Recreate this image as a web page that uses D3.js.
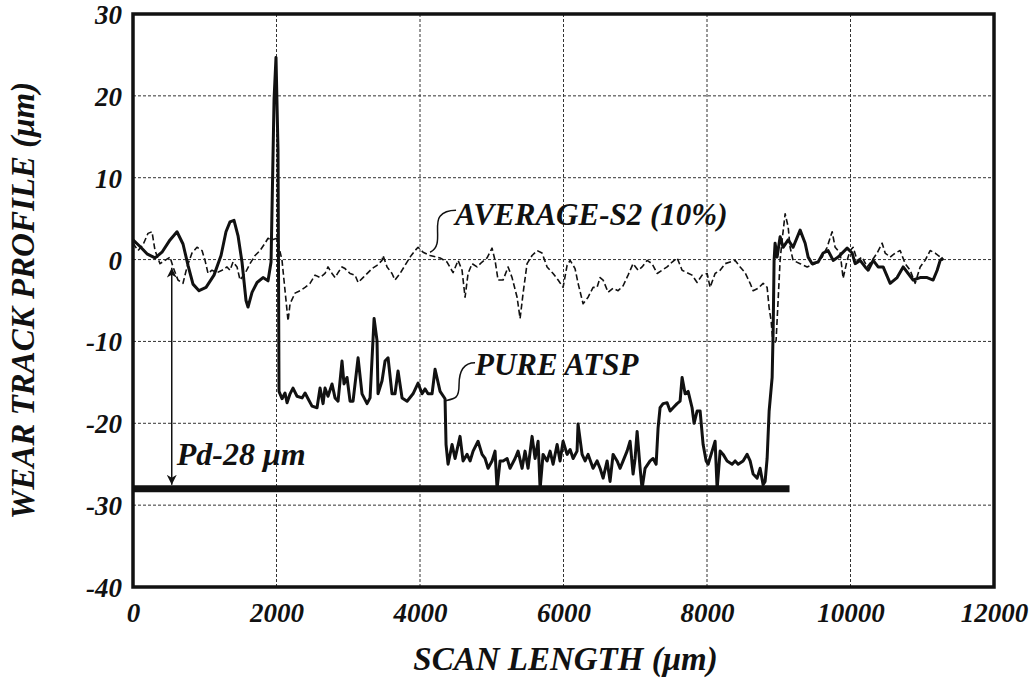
<!DOCTYPE html>
<html>
<head>
<meta charset="utf-8">
<script src="https://cdn.jsdelivr.net/npm/d3@7/dist/d3.min.js"></script>
<style>
  body { margin: 0; background: #fff; }
  svg { display: block; }
  text { font-family: "Liberation Serif", "Times New Roman", serif; font-weight: bold; font-style: italic; fill: #111; }
</style>
</head>
<body>
<svg id="chart" width="1029" height="678"></svg>
<script>
// Axis ticks
const xTicks = [0, 2000, 4000, 6000, 8000, 10000, 12000];
const yTicks = [-40, -30, -20, -10, 0, 10, 20, 30];

// Pure ATSP wear track profile: [scan length (um), depth (um)]
const pureAtsp = [
  [0,2.4],[98,1.6],[195,0.7],[307,0.2],[404,0.9],[516,2.4],[613,3.4],[697,1.9],[767,-0.7],[836,-3.0],
  [920,-3.8],[1018,-3.4],[1129,-1.9],[1227,0.5],[1296,3.4],[1352,4.6],[1408,4.8],[1464,2.9],[1519,-0.3],
  [1575,-5.0],[1603,-5.8],[1659,-4.0],[1729,-2.8],[1812,-2.2],[1882,-2.6],[1924,-0.3],[1966,19.6],
  [1993,24.7],[2021,13.4],[2035,-16.1],
  [2049,-16.4],[2077,-17.0],[2119,-16.3],[2147,-17.5],[2189,-16.4],[2230,-15.7],[2286,-16.7],[2356,-16.9],
  [2398,-16.3],[2440,-17.0],[2495,-17.9],[2565,-18.1],[2607,-15.7],[2649,-17.6],[2676,-15.7],[2718,-16.7],
  [2774,-15.2],[2816,-16.9],[2858,-17.3],[2913,-12.4],[2941,-15.2],[2983,-14.4],[3025,-17.3],[3067,-17.3],
  [3137,-12.0],[3192,-16.4],[3262,-17.6],[3304,-16.9],[3360,-7.2],[3401,-9.9],[3415,-16.4],[3471,-14.8],
  [3513,-12.4],[3555,-12.0],[3610,-16.4],[3652,-16.4],[3694,-13.6],[3750,-16.9],[3820,-17.3],[3903,-16.4],
  [3973,-15.1],[4029,-16.4],[4071,-15.8],[4112,-16.4],[4168,-16.4],[4210,-13.4],[4280,-16.1],[4349,-17.0],
  [4363,-22.6],[4391,-25.0],[4447,-22.6],[4489,-24.3],[4558,-21.6],[4600,-24.6],[4656,-23.8],[4698,-24.6],
  [4740,-23.4],[4809,-22.2],[4865,-23.8],[4907,-24.3],[4949,-25.5],[5004,-24.6],[5046,-23.4],[5074,-28.0],
  [5116,-24.6],[5158,-24.6],[5214,-24.3],[5255,-25.5],[5325,-24.3],[5367,-23.4],[5423,-25.5],[5464,-23.4],
  [5506,-25.5],[5562,-21.6],[5604,-24.3],[5646,-22.2],[5674,-28.0],[5715,-23.8],[5771,-24.6],[5813,-23.4],
  [5855,-25.0],[5911,-22.6],[5952,-24.6],[5994,-22.2],[6050,-23.8],[6092,-23.2],[6134,-24.3],[6189,-23.4],
  [6203,-20.1],[6259,-23.8],[6301,-24.6],[6343,-23.8],[6412,-25.5],[6468,-24.6],[6510,-25.5],[6552,-26.7],
  [6608,-24.6],[6649,-27.1],[6691,-23.8],[6747,-24.6],[6789,-25.5],[6831,-24.6],[6886,-23.4],[6928,-22.2],
  [6970,-26.2],[6998,-24.3],[7026,-21.0],[7068,-25.5],[7095,-28.0],[7137,-25.5],[7207,-24.6],[7249,-24.3],
  [7291,-25.0],[7318,-20.6],[7346,-18.1],[7388,-17.6],[7444,-17.5],[7486,-18.5],[7528,-18.1],[7583,-17.6],
  [7625,-17.3],[7653,-14.4],[7695,-16.4],[7737,-16.1],[7792,-18.1],[7820,-20.0],[7862,-18.5],[7904,-18.5],
  [7946,-22.6],[7988,-24.6],[8016,-25.0],[8071,-23.4],[8113,-22.2],[8141,-28.0],[8183,-23.4],[8225,-23.8],
  [8280,-24.6],[8350,-25.0],[8392,-24.6],[8434,-25.0],[8503,-24.6],[8559,-23.8],[8601,-24.6],[8643,-26.2],
  [8699,-26.7],[8740,-25.5],[8782,-27.5],[8810,-27.1],[8838,-24.3],[8866,-18.5],[8908,-14.4],[8922,-8.7],
  [8935,-0.1],[8949,2.0],[8977,0.3],[9019,2.8],[9061,1.5],[9131,2.4],[9200,1.5],[9298,3.6],[9368,2.0],
  [9410,0.3],[9465,-0.5],[9549,-0.3],[9619,0.8],[9688,1.1],[9758,-0.1],[9828,0.3],[9953,1.4],[10023,0.8],
  [10065,-0.5],[10134,-0.1],[10204,-0.9],[10246,-1.3],[10316,-0.1],[10385,-0.9],[10455,-0.9],[10553,-2.9],
  [10650,-2.2],[10734,-0.9],[10804,-1.7],[10873,-2.5],[10971,-2.2],[11068,-2.2],[11152,-2.5],[11208,-1.3],
  [11250,-0.1],[11291,0.2]
];

// Average-S2 (10%) wear track profile: [scan length (um), depth (um)]
const averageS2 = [
  [0,2.0],[70,1.1],[139,1.8],[209,3.2],[265,3.4],[307,1.1],[376,-0.5],[446,-0.1],[516,0.3],[558,-0.9],
  [627,-2.5],[697,-2.9],[753,-0.9],[822,0.8],[892,1.5],[962,1.1],[1004,-0.1],[1046,-1.7],[1101,-1.3],
  [1171,-1.6],[1241,-1.3],[1310,-0.9],[1352,-1.3],[1394,-0.3],[1450,-0.9],[1492,-2.5],[1561,-1.7],
  [1631,-0.5],[1701,0.5],[1770,1.1],[1840,2.0],[1882,2.6],[1938,2.4],[2007,2.6],[2077,-0.1],[2119,-3.8],
  [2161,-7.5],[2189,-5.4],[2258,-4.1],[2328,-3.8],[2398,-3.4],[2467,-2.9],[2537,-1.9],[2607,-2.2],
  [2676,-1.7],[2718,-0.9],[2774,-1.7],[2816,-2.2],[2858,-1.6],[2913,-0.9],[2955,-1.1],[3025,-1.7],
  [3095,-1.9],[3137,-2.8],[3206,-2.2],[3276,-1.6],[3332,-1.1],[3401,-0.7],[3471,-0.1],[3485,0.5],
  [3541,-0.9],[3610,-1.7],[3652,-2.5],[3722,-1.7],[3792,-0.7],[3861,0.3],[3931,1.1],[3973,1.5],[4043,0.9],
  [4140,0.5],[4280,0.2],[4377,-0.3],[4461,-1.6],[4531,-0.1],[4586,-1.3],[4628,-4.6],[4670,-1.7],
  [4726,-0.5],[4795,-0.9],[4865,-0.3],[4935,0.2],[5004,1.4],[5046,-0.1],[5088,-2.5],[5158,-2.5],
  [5228,-0.9],[5283,-2.2],[5353,-4.6],[5395,-7.2],[5437,-4.1],[5492,-0.5],[5562,0.5],[5632,1.1],
  [5701,0.8],[5771,-0.9],[5855,-1.7],[5925,-2.5],[5994,-3.4],[6050,-0.7],[6092,-0.1],[6161,-1.1],
  [6203,-2.9],[6273,-5.4],[6343,-4.6],[6412,-3.4],[6468,-3.4],[6510,-2.2],[6552,-2.5],[6622,-4.0],
  [6691,-3.5],[6761,-3.8],[6831,-3.2],[6900,-1.9],[6970,-0.5],[7040,-1.3],[7095,-0.9],[7165,-0.1],
  [7235,-0.5],[7305,-1.7],[7374,-1.3],[7444,-0.9],[7514,-0.3],[7583,0.2],[7653,-1.3],[7723,-1.6],
  [7792,-1.9],[7862,-2.8],[7932,-1.9],[8002,-1.7],[8043,-3.4],[8113,-1.7],[8183,-1.3],[8253,-0.5],
  [8322,-0.3],[8392,-0.1],[8462,-0.9],[8531,-1.6],[8601,-2.9],[8643,-3.8],[8713,-3.5],[8782,-2.9],
  [8838,-3.4],[8866,-5.9],[8894,-7.5],[8922,-10.5],[8963,-9.9],[8991,-5.0],[9019,-0.1],[9047,2.4],
  [9089,5.6],[9131,4.0],[9158,1.5],[9200,-0.1],[9298,-0.5],[9396,-0.9],[9507,-0.5],[9605,0.3],[9674,1.5],
  [9744,3.4],[9786,1.5],[9856,0.8],[9897,-2.3],[9953,-0.1],[9995,1.1],[10037,1.5],[10093,-0.1],
  [10162,0.3],[10232,-0.9],[10302,-0.1],[10371,0.8],[10441,2.0],[10483,0.8],[10553,0.3],[10622,0.8],
  [10692,1.1],[10762,-0.5],[10831,-1.3],[10901,-2.9],[10971,-0.9],[11040,-0.1],[11110,1.1],[11180,0.8],
  [11250,0.3],[11291,-0.1]
];

// Penetration depth reference line
const pdDepth = -28;
const pdSpan = [0, 9150];
const pdArrowX = 540;
const pdArrowTop = -1;

const width = 1029, height = 678;
const margin = { top: 14, right: 35, bottom: 91, left: 133 };

const svg = d3.select("#chart");
const x = d3.scaleLinear().domain([0, 12000]).range([margin.left, width - margin.right]);
const y = d3.scaleLinear().domain([-40, 30]).range([height - margin.bottom, margin.top]);

// Grid
const grid = svg.append("g").attr("stroke", "#333").attr("stroke-width", 1).attr("stroke-dasharray", "3,2");
grid.selectAll("line.gx").data(xTicks.slice(1, -1)).join("line")
  .attr("x1", d => x(d)).attr("x2", d => x(d))
  .attr("y1", y(30)).attr("y2", y(-40));
grid.selectAll("line.gy").data(yTicks.slice(1, -1)).join("line")
  .attr("x1", x(0)).attr("x2", x(12000))
  .attr("y1", d => y(d)).attr("y2", d => y(d));

// Axes (labels only; the frame is drawn separately)
const fmt = d => String(d);
const xAxis = svg.append("g")
  .attr("transform", `translate(0,${y(-40)})`)
  .call(d3.axisBottom(x).tickValues(xTicks).tickSize(0).tickPadding(16).tickFormat(fmt));
const yAxis = svg.append("g")
  .attr("transform", `translate(${x(0)},0)`)
  .call(d3.axisLeft(y).tickValues(yTicks).tickSize(0).tickPadding(11).tickFormat(fmt));
[xAxis, yAxis].forEach(a => {
  a.select(".domain").remove();
  a.selectAll("text").attr("font-family", "Liberation Serif").attr("font-size", 27)
    .attr("font-weight", "bold").attr("font-style", "italic").attr("fill", "#111");
});
yAxis.selectAll("text").attr("dy", "0.35em");

const line = d3.line().x(d => x(d[0])).y(d => y(d[1]));

// Average-S2 (dashed)
svg.append("path").datum(averageS2)
  .attr("d", line).attr("fill", "none").attr("stroke", "#111")
  .attr("stroke-width", 1.6).attr("stroke-dasharray", "6,3").attr("stroke-linejoin", "round");

// Pure ATSP (solid)
svg.append("path").datum(pureAtsp)
  .attr("d", line).attr("fill", "none").attr("stroke", "#111")
  .attr("stroke-width", 3).attr("stroke-linejoin", "round");

// Pd line
svg.append("line")
  .attr("x1", x(pdSpan[0])).attr("x2", x(pdSpan[1]))
  .attr("y1", y(pdDepth)).attr("y2", y(pdDepth))
  .attr("stroke", "#111").attr("stroke-width", 7);

// Double arrow marking the depth
const defs = svg.append("defs");
defs.append("marker").attr("id", "ah").attr("viewBox", "0 0 10 10")
  .attr("refX", 10).attr("refY", 5).attr("markerWidth", 10).attr("markerHeight", 10)
  .attr("orient", "auto-start-reverse").attr("markerUnits", "userSpaceOnUse")
  .append("path").attr("d", "M0,0 L10,5 L0,10 L3,5 Z").attr("fill", "#111");
svg.append("line")
  .attr("x1", x(pdArrowX)).attr("x2", x(pdArrowX))
  .attr("y1", y(pdArrowTop)).attr("y2", y(pdDepth) - 4)
  .attr("stroke", "#111").attr("stroke-width", 1.5)
  .attr("marker-start", "url(#ah)").attr("marker-end", "url(#ah)");

// Frame
svg.append("rect")
  .attr("x", x(0)).attr("y", y(30))
  .attr("width", x(12000) - x(0)).attr("height", y(-40) - y(30))
  .attr("fill", "none").attr("stroke", "#111").attr("stroke-width", 3.5);

// Annotations
const lbl = (txt, px, py, size) => svg.append("text")
  .attr("x", px).attr("y", py).attr("font-size", size).text(txt);

const avgAnchor = [4140, 0.9];
const ax0 = x(avgAnchor[0]), ay0 = y(avgAnchor[1]);
svg.append("path")
  .attr("d", `M${ax0},${ay0} C${ax0 + 14},${ay0 - 6} ${ax0 + 3},${ay0 - 28} ${ax0 + 10},${ay0 - 36} C${ax0 + 14},${ay0 - 41} ${ax0 + 20},${ay0 - 42} ${ax0 + 26},${ay0 - 42}`)
  .attr("fill", "none").attr("stroke", "#111").attr("stroke-width", 1.5);
lbl("AVERAGE-S2 (10%)", ax0 + 25, ay0 - 27, 31);

const pureAnchor = [4349, -17.0];
const px0 = x(pureAnchor[0]), py0 = y(pureAnchor[1]);
svg.append("path")
  .attr("d", `M${px0},${py0 + 2} C${px0 + 10},${py0} ${px0 + 14},${py0} ${px0 + 14},${py0 - 14} C${px0 + 14},${py0 - 30} ${px0 + 20},${py0 - 36} ${px0 + 30},${py0 - 36}`)
  .attr("fill", "none").attr("stroke", "#111").attr("stroke-width", 1.5);
lbl("PURE ATSP", px0 + 30, py0 - 24, 31);

lbl("Pd-28 \u03bcm", x(pdArrowX) + 5, y(pdDepth) - 24, 32);

// Axis titles
svg.append("text")
  .attr("x", (x(0) + x(12000)) / 2 + 2).attr("y", 670)
  .attr("text-anchor", "middle").attr("font-size", 33)
  .text("SCAN LENGTH (\u03bcm)");
svg.append("text")
  .attr("transform", `translate(34,${(y(30) + y(-40)) / 2}) rotate(-90)`)
  .attr("text-anchor", "middle").attr("font-size", 33)
  .text("WEAR TRACK PROFILE (\u03bcm)");
</script>
</body>
</html>
